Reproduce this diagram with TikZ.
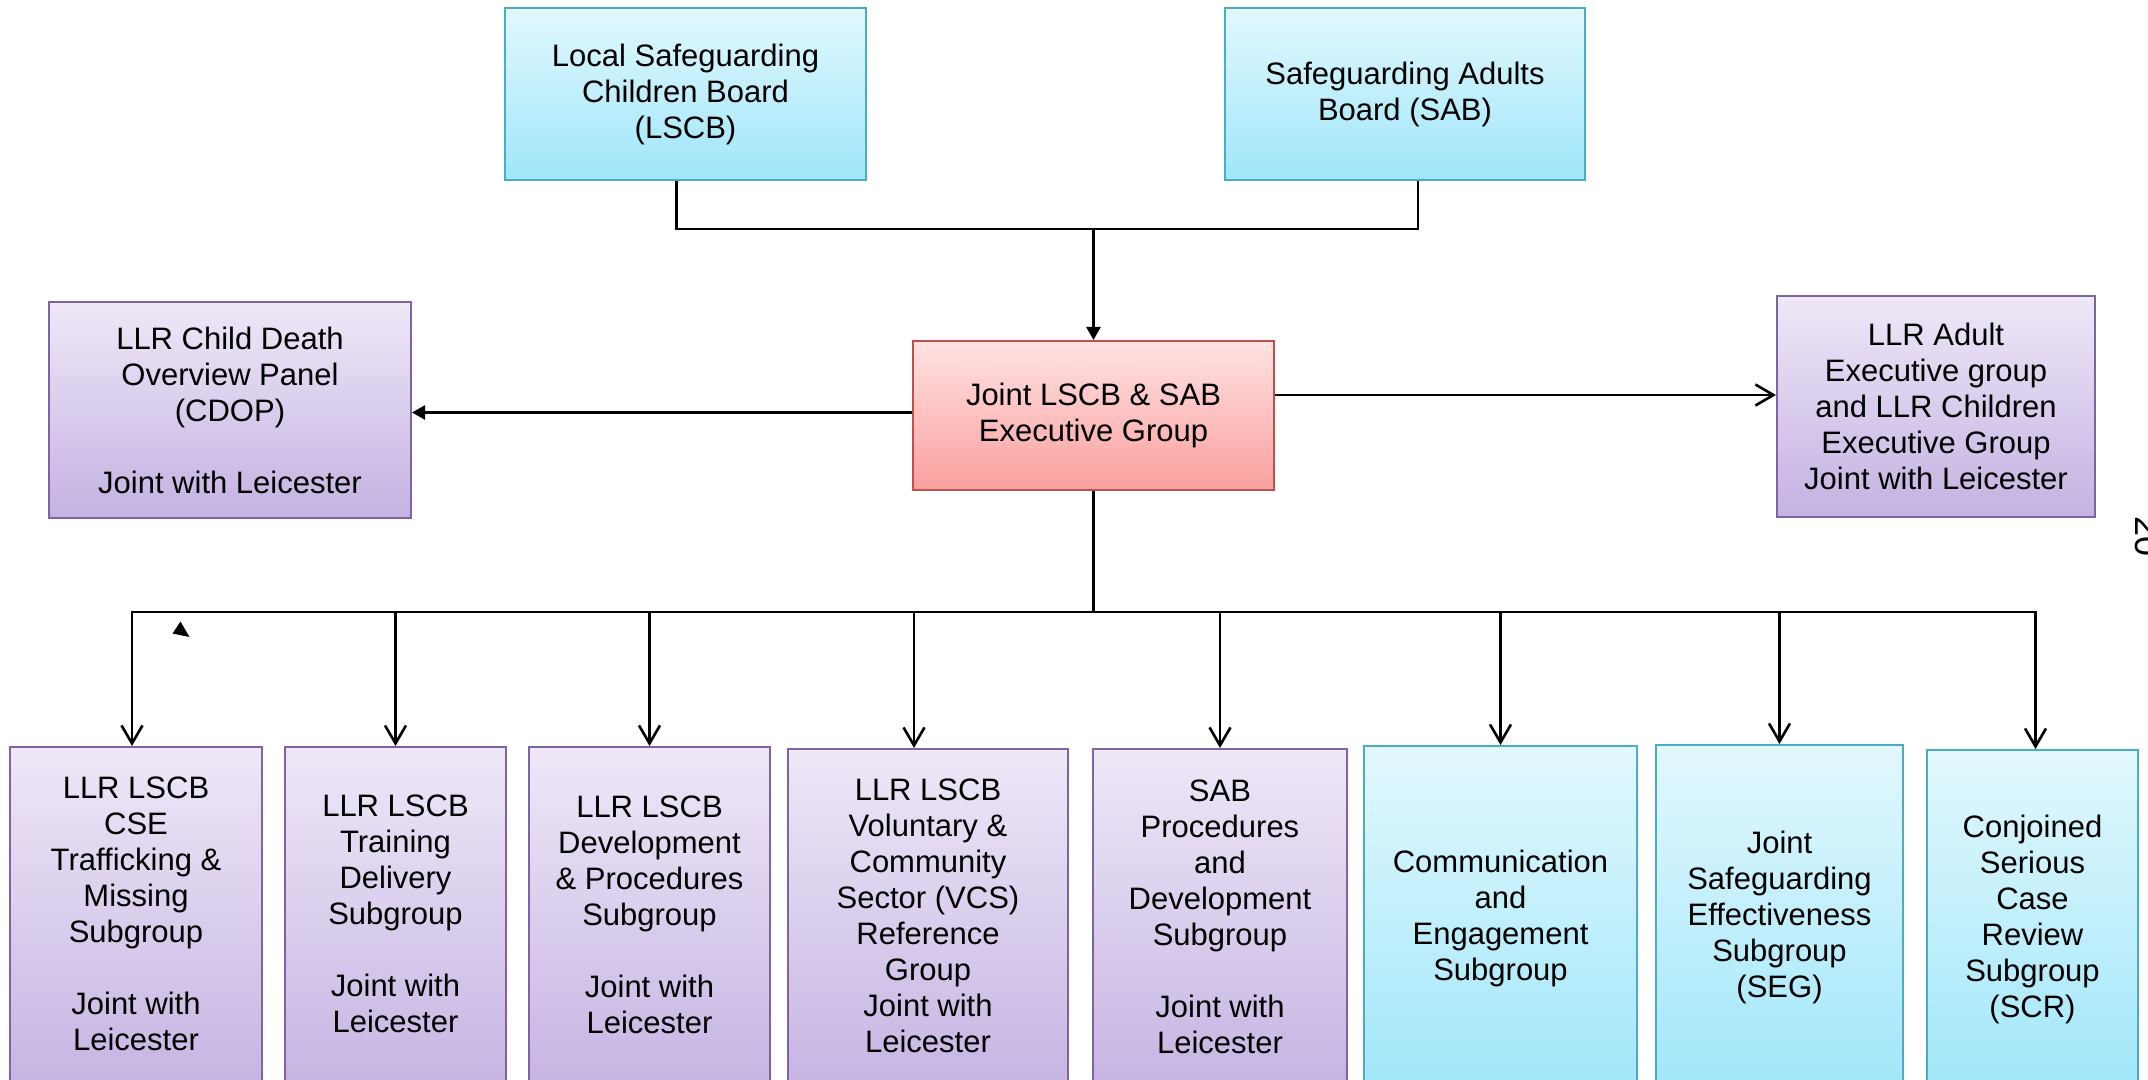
\documentclass[tikz,border=0pt]{standalone}
\usepackage{fontspec}
\setmainfont{Liberation Sans}
\usetikzlibrary{arrows.meta}
\definecolor{pTop}{HTML}{EEE8F7}
\definecolor{pBot}{HTML}{C4B2E2}
\definecolor{pBorder}{HTML}{8064A2}
\definecolor{bTop}{HTML}{E2F8FD}
\definecolor{bBot}{HTML}{9FE6FA}
\definecolor{bBorder}{HTML}{4BACC6}
\definecolor{rTop}{HTML}{FFE2E2}
\definecolor{rBot}{HTML}{F9A09E}
\definecolor{rBorder}{HTML}{C0504D}
\begin{document}
\begin{tikzpicture}[x=0.5pt,y=-0.5pt,
  every node/.style={font=\fontsize{15.5pt}{18pt}\selectfont},
  box/.style={inner sep=0pt, line width=1pt, align=center, rectangle},
  pbox/.style={box, draw=pBorder, top color=pTop, bottom color=pBot},
  bbox/.style={box, draw=bBorder, top color=bTop, bottom color=bBot},
  rbox/.style={box, draw=rBorder, top color=rTop, bottom color=rBot},
  txt/.style={inner sep=0pt, align=center, anchor=north},
  conn/.style={line width=1.3pt, black},
  openarrow/.style={conn, -{Straight Barb[length=9pt,width=10.5pt]}},
  fillarrow/.style={conn, -{Triangle[length=6.5pt,width=7pt]}}
]
\useasboundingbox (0,0) rectangle (2148,1080);
\clip (0,0) rectangle (2148,1080);

% top boards
\node[bbox, minimum width=180.5pt, minimum height=86pt] (lscb) at (685.5,94)
  {Local Safeguarding\\Children Board\\(LSCB)};
\node[bbox, minimum width=180pt, minimum height=86pt] (sab) at (1405,94)
  {Safeguarding Adults\\Board (SAB)};

% executive
\node[rbox, minimum width=180.5pt, minimum height=74.5pt] (exec) at (1093.5,415.5)
  {Joint LSCB \& SAB\\Executive Group};
\node[pbox, minimum width=181pt, minimum height=108pt] (cdop) at (230,410)
  {LLR Child Death\\Overview Panel\\(CDOP)\\[18pt]Joint with Leicester};
\node[pbox, minimum width=159pt, minimum height=110.5pt] (adult) at (1936,406.5)
  {LLR Adult\\Executive group\\and LLR Children\\Executive Group\\Joint with Leicester};

% bottom boxes
\node[pbox, minimum width=126pt, minimum height=176.5pt] (b1) at (136,923.5) {};
\node[pbox, minimum width=110.5pt, minimum height=176.5pt] (b2) at (395.5,923.5) {};
\node[pbox, minimum width=120.5pt, minimum height=176.5pt] (b3) at (649.5,923.5) {};
\node[pbox, minimum width=140pt, minimum height=175.5pt] (b4) at (928,924.5) {};
\node[pbox, minimum width=127pt, minimum height=175.5pt] (b5) at (1220,924.5) {};
\node[bbox, minimum width=136.5pt, minimum height=177pt] (b6) at (1500.5,923) {};
\node[bbox, minimum width=123.5pt, minimum height=177.5pt] (b7) at (1779.5,922.5) {};
\node[bbox, minimum width=105.5pt, minimum height=175pt] (b8) at (2032.5,925) {};

\node[txt] (t1) at (136,776) {LLR LSCB\\CSE\\Trafficking \&\\Missing\\Subgroup\\[18pt]Joint with\\Leicester};
\node[txt] (t2) at (395.5,794) {LLR LSCB\\Training\\Delivery\\Subgroup\\[18pt]Joint with\\Leicester};
\node[txt] (t3) at (649.5,795) {LLR LSCB\\Development\\\& Procedures\\Subgroup\\[18pt]Joint with\\Leicester};
\node[txt] (t4) at (928,778) {LLR LSCB\\Voluntary \&\\Community\\Sector (VCS)\\Reference\\Group\\Joint with\\Leicester};
\node[txt] (t5) at (1220,779) {SAB\\Procedures\\and\\Development\\Subgroup\\[18pt]Joint with\\Leicester};
\node[txt] (t6) at (1500.5,850) {Communication\\and\\Engagement\\Subgroup};
\node[txt] (t7) at (1779.5,831) {Joint\\Safeguarding\\Effectiveness\\Subgroup\\(SEG)};
\node[txt] (t8) at (2032.5,815) {Conjoined\\Serious\\Case\\Review\\Subgroup\\(SCR)};

% page number (clipped at the edge, as in the source)
\node[rotate=-90, inner sep=0pt, anchor=base, font=\fontsize{18pt}{20pt}\selectfont] (pg) at (2135,537) {20};

% connectors: boards to executive
\coordinate (tj) at (1093.5,229);
\draw[conn] ([xshift=-4.5pt]lscb.south) |- (tj) -| ([xshift=6.5pt]sab.south);
\draw[fillarrow] (tj) -- (exec.north);

% executive to side groups
\draw[fillarrow] ([yshift=1.5pt]exec.west) -- ([yshift=1.5pt]exec.west -| cdop.east);
\draw[openarrow] ([yshift=10.25pt]exec.east) -- ([yshift=10.25pt]exec.east -| adult.west);

% executive to subgroups
\coordinate (bus) at (1093.5,612);
\draw[conn] (exec.south) -- (bus);
\draw[openarrow] (bus) -| ([xshift=-2pt]b1.north);
\draw[openarrow] (bus) -| ([xshift=1.5pt]b8.north);
\foreach \b in {b2,b3,b5,b6,b7}
  \draw[openarrow] (\b.north |- bus) -- (\b.north);
\draw[openarrow] ([xshift=-7pt]b4.north |- bus) -- ([xshift=-7pt]b4.north);

% stray arrowhead mark
\fill (180.5,621.5) -- (189.5,637) -- (172.5,633.5) -- cycle;
\end{tikzpicture}
\end{document}
